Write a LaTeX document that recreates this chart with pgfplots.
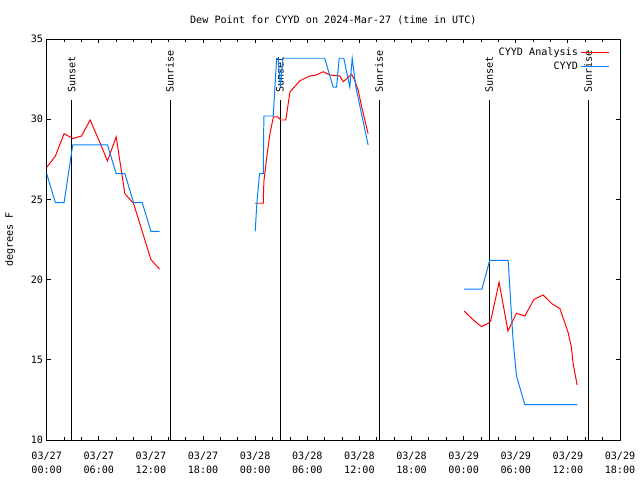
\documentclass[border=0pt]{standalone}
\usepackage{fontspec}
\setmainfont{DejaVu Sans Mono}
\usepackage{pgfplots}
\pgfplotsset{compat=1.18}
\definecolor{obsblue}{RGB}{0,128,255}
\begin{document}
\fontsize{7.2}{10.5}\selectfont
\begin{tikzpicture}
% canvas: 1px = 0.025cm
\path[use as bounding box] (-1.1675cm,-1cm) rectangle (14.8325cm,11cm);
\begin{axis}[
  at={(0,0)}, anchor=south west, scale only axis,
  width=14.333cm, height=10.025cm,
  xmin=0, xmax=66, ymin=10, ymax=35,
  xtick={0,6,...,66}, minor x tick num=2,
  ytick={10,15,...,35},
  tick align=inside,
  major tick length=0.1cm, minor tick length=0.07cm,
  tick style={black, line width=0.6pt},
  axis line style={line width=0.6pt},
  xticklabels={{03/27\\00:00},{03/27\\06:00},{03/27\\12:00},{03/27\\18:00},
    {03/28\\00:00},{03/28\\06:00},{03/28\\12:00},{03/28\\18:00},
    {03/29\\00:00},{03/29\\06:00},{03/29\\12:00},{03/29\\18:00}},
  xticklabel style={align=center, yshift=-0.2cm},
  /pgf/number format/assume math mode=true,
  title={Dew Point for CYYD on 2024-Mar-27 (time in UTC)},
  title style={at={(0.5,1)}, anchor=center, yshift=0.25cm},
  ylabel={degrees F},
  ylabel style={at={(axis description cs:-0.064,0.5)}, anchor=center},
  unbounded coords=jump,
  legend plot pos=right,
  legend cell align=right,
  legend style={draw=none, fill=none, at={(0.985,0.99)}, anchor=north east,
    row sep=0pt, inner sep=1pt},
  legend image code/.code={\draw[#1] (0cm,0cm) -- (0.7cm,0cm);},
]
% sunset / sunrise markers
\addplot[black, line width=0.6pt, forget plot] coordinates {(2.88,10) (2.88,31.2)};
\addplot[black, line width=0.6pt, forget plot] coordinates {(14.19,10) (14.19,31.2)};
\addplot[black, line width=0.6pt, forget plot] coordinates {(26.85,10) (26.85,31.2)};
\addplot[black, line width=0.6pt, forget plot] coordinates {(38.26,10) (38.26,31.2)};
\addplot[black, line width=0.6pt, forget plot] coordinates {(50.93,10) (50.93,31.2)};
\addplot[black, line width=0.6pt, forget plot] coordinates {(62.32,10) (62.32,31.2)};
\node[rotate=90, anchor=west, inner sep=0pt] at (axis cs:2.88,31.63) {Sunset};
\node[rotate=90, anchor=west, inner sep=0pt] at (axis cs:14.19,31.63) {Sunrise};
\node[rotate=90, anchor=west, inner sep=0pt] at (axis cs:26.85,31.63) {Sunset};
\node[rotate=90, anchor=west, inner sep=0pt] at (axis cs:38.26,31.63) {Sunrise};
\node[rotate=90, anchor=west, inner sep=0pt] at (axis cs:50.93,31.63) {Sunset};
\node[rotate=90, anchor=west, inner sep=0pt] at (axis cs:62.32,31.63) {Sunrise};

% CYYD Analysis
\addplot[red, line width=0.7pt] coordinates {
  (0,27.0) (1,27.7) (2,29.1) (3,28.8) (4,28.95) (5,29.95) (6,28.7) (7,27.4)
  (8,28.9) (9,25.35) (10,24.75) (11,23.0) (12,21.25) (13,20.65)
  (18,nan)
  (24.0,24.76) (24.93,24.76) (25.0,26.1) (25.35,27.7) (25.7,29.1) (26.1,30.15)
  (26.6,30.15) (26.96,29.95) (27.53,29.95) (28.0,31.7) (29.15,32.4) (30.3,32.7)
  (31.0,32.75) (31.83,32.96) (32.6,32.75) (33.75,32.7) (34.13,32.34) (35.1,32.8)
  (35.48,32.4) (35.86,31.8) (36.25,30.8) (37.0,29.1)
  (42,nan)
  (48.05,18.04) (48.7,17.7) (49.3,17.4) (50.06,17.07) (50.8,17.27) (51.1,17.4)
  (52.08,19.83) (53.1,16.8) (54.08,17.9) (55.04,17.73) (56.1,18.77) (57.15,19.04)
  (58.2,18.48) (59.07,18.2) (60.0,16.75) (60.4,15.8) (60.6,14.78) (61.06,13.43)
};
\addlegendentry{CYYD Analysis}
% CYYD
\addplot[obsblue, line width=0.7pt] coordinates {
  (0,26.6) (1,24.8) (2,24.8) (3,28.4) (7,28.4) (8,26.6) (9,26.6) (10,24.8)
  (11,24.8) (12,23.0) (13,23.0)
  (18,nan)
  (24.0,23.0) (24.2,24.8) (24.5,26.6) (24.93,26.6) (25.0,30.2) (26.08,30.2)
  (26.47,33.8) (26.65,33.8) (26.9,32.0) (27.2,33.8) (32.0,33.8) (32.98,32.0)
  (33.37,32.0) (33.67,33.8) (34.2,33.8) (34.9,32.0) (35.17,33.8) (35.59,32.0)
  (37.0,28.4)
  (42,nan)
  (48.05,19.4) (50.1,19.4) (51.0,21.2) (53.12,21.2) (53.69,16.2) (54.08,14.0)
  (55.04,12.2) (61.1,12.2)
};
\addlegendentry{CYYD}
\end{axis}
\end{tikzpicture}
\end{document}
